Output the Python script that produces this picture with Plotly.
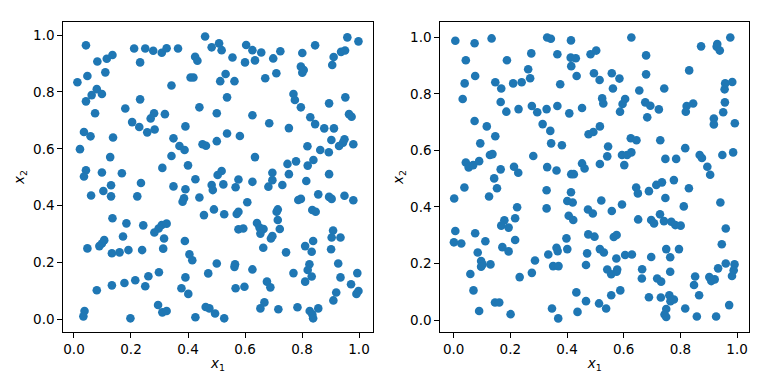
import plotly.graph_objects as go

# Left panel samples (x1, x2)
left_x1 = [0.042,0.211,0.250,0.278,0.308,0.325,0.365,0.460,0.483,0.082,0.115,0.135,0.232,0.425,0.433,0.110,0.047,0.012,0.080,0.062,0.098,0.042,0.342,0.409,0.419,0.232,0.180,0.074,0.281,0.269,0.319,0.440,0.204,0.229,0.257,0.283,0.391,0.035,0.058,0.137,0.349,0.021,0.370,0.388,0.451,0.463,0.127,0.342,0.400,0.310,0.042,0.098,0.168,
 0.509,0.518,0.556,0.604,0.626,0.657,0.600,0.635,0.699,0.724,0.801,0.846,0.959,0.998,0.937,0.951,0.911,0.906,0.796,0.801,0.806,0.532,0.513,0.563,0.671,0.710,0.537,0.770,0.775,0.796,0.895,0.952,0.501,0.626,0.685,0.754,0.829,0.846,0.878,0.912,0.965,0.974,0.537,0.582,0.501,0.903,0.949,0.944,0.930,0.980,0.819,0.864,0.894,0.635,0.749,0.779,0.820,0.840,0.518,0.504,0.696,0.754,0.895,
 0.035,0.235,0.349,0.391,0.426,0.483,0.487,0.060,0.103,0.130,0.130,0.222,0.381,0.386,0.440,0.491,0.456,0.135,0.184,0.243,0.308,0.325,0.297,0.282,0.172,0.316,0.106,0.098,0.089,0.047,0.389,0.191,0.239,0.313,0.133,0.160,0.405,0.415,0.501,0.471,0.298,0.261,0.215,0.250,0.177,0.133,0.080,0.391,0.377,0.401,0.295,0.310,0.325,0.037,0.033,0.198,0.462,0.475,0.495,0.426,
 0.524,0.577,0.567,0.626,0.682,0.696,0.731,0.815,0.608,0.787,0.796,0.857,0.895,0.904,0.949,0.980,0.527,0.571,0.577,0.715,0.711,0.836,0.848,0.715,0.642,0.651,0.665,0.654,0.577,0.594,0.722,0.696,0.691,0.909,0.904,0.935,0.664,0.811,0.839,0.834,0.744,0.902,0.565,0.563,0.626,0.826,0.820,0.927,0.770,0.834,0.811,0.935,0.994,0.972,0.677,0.689,0.567,0.598,0.998,0.991,0.920,0.910,0.668,0.654,0.717,0.784,0.827,0.836,0.839,0.857,0.527]
left_x2 = [0.964,0.953,0.953,0.945,0.938,0.954,0.953,0.995,0.957,0.907,0.917,0.930,0.904,0.924,0.910,0.869,0.856,0.834,0.810,0.789,0.793,0.767,0.823,0.851,0.851,0.774,0.742,0.725,0.725,0.707,0.722,0.746,0.694,0.677,0.658,0.668,0.679,0.659,0.644,0.640,0.637,0.599,0.610,0.596,0.616,0.611,0.571,0.575,0.542,0.533,0.525,0.517,0.514,
 0.971,0.947,0.921,0.965,0.947,0.939,0.904,0.911,0.918,0.943,0.937,0.964,0.992,0.978,0.941,0.946,0.923,0.895,0.889,0.868,0.877,0.863,0.838,0.838,0.848,0.866,0.781,0.793,0.772,0.746,0.760,0.781,0.725,0.718,0.690,0.673,0.711,0.687,0.672,0.672,0.722,0.713,0.654,0.645,0.627,0.631,0.634,0.622,0.610,0.616,0.609,0.596,0.588,0.571,0.547,0.556,0.541,0.561,0.522,0.508,0.516,0.511,0.511,
 0.503,0.480,0.468,0.458,0.493,0.473,0.455,0.436,0.452,0.472,0.433,0.433,0.414,0.426,0.429,0.387,0.367,0.356,0.338,0.331,0.332,0.337,0.320,0.306,0.292,0.285,0.279,0.267,0.258,0.250,0.276,0.244,0.244,0.249,0.233,0.236,0.229,0.208,0.197,0.162,0.166,0.152,0.138,0.117,0.128,0.120,0.103,0.148,0.110,0.090,0.051,0.025,0.030,0.030,0.011,0.004,0.044,0.039,0.021,0.008,
 0.475,0.492,0.465,0.484,0.467,0.490,0.473,0.487,0.412,0.420,0.424,0.440,0.431,0.424,0.435,0.419,0.370,0.371,0.379,0.387,0.379,0.385,0.379,0.350,0.339,0.323,0.318,0.302,0.317,0.320,0.318,0.293,0.285,0.313,0.288,0.288,0.252,0.258,0.276,0.238,0.236,0.247,0.194,0.185,0.176,0.194,0.174,0.197,0.163,0.151,0.133,0.148,0.163,0.124,0.133,0.113,0.110,0.115,0.100,0.090,0.095,0.067,0.060,0.039,0.036,0.043,0.030,0.018,0.004,0.039,0.004]

# Right panel samples (x1, x2)
right_x1 = [0.006,0.074,0.134,0.330,0.343,0.414,0.043,0.188,0.274,0.366,0.413,0.431,0.415,0.263,0.076,0.039,0.147,0.168,0.210,0.240,0.270,0.376,0.434,0.032,0.166,0.186,0.229,0.276,0.295,0.328,0.366,0.408,0.453,0.074,0.117,0.147,0.094,0.314,0.341,0.344,0.382,0.476,0.128,0.137,0.281,0.043,0.053,0.069,0.090,0.166,0.213,0.228,0.330,0.363,0.415,0.424,0.453,0.462,
 0.627,0.873,0.930,0.928,0.939,0.976,0.483,0.503,0.679,0.495,0.515,0.558,0.585,0.679,0.831,0.562,0.655,0.743,0.958,0.983,0.956,0.524,0.528,0.605,0.596,0.587,0.676,0.694,0.724,0.683,0.822,0.845,0.819,0.957,0.951,0.918,0.918,0.992,0.516,0.493,0.625,0.645,0.729,0.545,0.542,0.516,0.594,0.612,0.627,0.602,0.747,0.785,0.817,0.868,0.876,0.895,0.905,0.948,0.986,
 0.143,0.038,0.002,0.125,0.153,0.328,0.414,0.401,0.420,0.224,0.328,0.474,0.179,0.168,0.194,0.217,0.406,0.422,0.006,0.076,0.001,0.027,0.112,0.217,0.172,0.194,0.085,0.398,0.401,0.363,0.367,0.334,0.475,0.471,0.097,0.102,0.097,0.130,0.287,0.351,0.370,0.467,0.059,0.276,0.233,0.070,0.433,0.467,0.146,0.161,0.090,0.201,0.347,0.369,0.437,
 0.644,0.650,0.689,0.715,0.735,0.777,0.830,0.521,0.594,0.558,0.491,0.747,0.812,0.941,0.651,0.697,0.707,0.728,0.742,0.768,0.782,0.801,0.960,0.946,0.497,0.565,0.575,0.516,0.530,0.574,0.605,0.629,0.697,0.750,0.764,0.795,0.542,0.556,0.575,0.577,0.665,0.664,0.718,0.732,0.764,0.852,0.848,0.902,0.909,0.921,0.933,0.960,0.991,0.988,0.982,0.588,0.556,0.513,0.538,0.689,0.731,0.761,0.765,0.777,0.750,0.744,0.750,0.817,0.866,0.858,0.926,0.972]
right_x2 = [0.988,0.979,0.996,0.999,0.995,0.989,0.919,0.919,0.943,0.940,0.928,0.926,0.898,0.887,0.863,0.837,0.841,0.819,0.837,0.841,0.855,0.834,0.863,0.782,0.771,0.737,0.746,0.757,0.735,0.746,0.757,0.731,0.750,0.704,0.685,0.650,0.625,0.693,0.669,0.625,0.618,0.657,0.584,0.587,0.580,0.557,0.540,0.548,0.562,0.533,0.542,0.521,0.541,0.529,0.516,0.516,0.554,0.536,
 0.999,0.968,0.976,0.967,0.953,0.999,0.940,0.953,0.936,0.873,0.849,0.873,0.854,0.869,0.883,0.819,0.812,0.819,0.837,0.842,0.816,0.784,0.766,0.782,0.764,0.737,0.770,0.758,0.745,0.717,0.757,0.766,0.737,0.770,0.735,0.713,0.692,0.696,0.685,0.665,0.643,0.636,0.636,0.614,0.579,0.552,0.584,0.584,0.593,0.548,0.570,0.570,0.608,0.584,0.573,0.542,0.514,0.584,0.593,
 0.501,0.469,0.430,0.437,0.466,0.459,0.452,0.421,0.416,0.399,0.395,0.391,0.353,0.334,0.327,0.360,0.369,0.354,0.315,0.307,0.275,0.271,0.279,0.283,0.258,0.243,0.239,0.289,0.251,0.256,0.244,0.232,0.303,0.236,0.209,0.197,0.189,0.197,0.211,0.191,0.191,0.195,0.163,0.167,0.152,0.105,0.098,0.067,0.062,0.062,0.032,0.021,0.041,0.006,0.029,
 0.469,0.448,0.456,0.478,0.487,0.495,0.466,0.423,0.409,0.386,0.377,0.432,0.402,0.416,0.356,0.354,0.342,0.374,0.350,0.348,0.336,0.334,0.324,0.268,0.295,0.294,0.301,0.251,0.239,0.218,0.230,0.232,0.223,0.251,0.222,0.251,0.179,0.162,0.171,0.179,0.180,0.147,0.147,0.136,0.171,0.154,0.124,0.152,0.138,0.144,0.183,0.200,0.197,0.176,0.156,0.105,0.088,0.059,0.041,0.081,0.080,0.088,0.067,0.073,0.039,0.020,0.011,0.041,0.088,0.013,0.013,0.053]

tick_vals = [0.0, 0.2, 0.4, 0.6, 0.8, 1.0]
tick_text = ["0.0", "0.2", "0.4", "0.6", "0.8", "1.0"]
blue = "#1f77b4"
font = "DejaVu Sans"

fig = go.Figure()
fig.add_trace(go.Scatter(x=left_x1, y=left_x2, mode="markers", xaxis="x", yaxis="y",
                         marker=dict(color=blue, size=8.6, line=dict(width=0)), showlegend=False))
fig.add_trace(go.Scatter(x=right_x1, y=right_x2, mode="markers", xaxis="x2", yaxis="y2",
                         marker=dict(color=blue, size=8.6, line=dict(width=0)), showlegend=False))

def ax(domain, rng, anchor, title, standoff):
    return dict(domain=domain, range=rng, anchor=anchor, showgrid=False, zeroline=False,
                showline=True, mirror=True, linecolor="black", linewidth=1,
                ticks="outside", ticklen=5, tickwidth=1, tickcolor="black",
                tickvals=tick_vals, ticktext=tick_text,
                tickfont=dict(family=font, size=13.5, color="black"),
                title=dict(text=title, font=dict(family=font, size=13.5, color="black"), standoff=standoff))

y_dom = [52.3/384, 361.7/384]
fig.update_layout(
    width=768, height=384, margin=dict(l=0, r=0, t=0, b=0),
    paper_bgcolor="white", plot_bgcolor="white",
    xaxis=ax([63.3/768, 372.7/768], [-0.0375, 1.048], "y", "<i>x</i><sub>1</sub>", 2),
    yaxis=ax(y_dom, [-0.043, 1.045], "x", "<i>x</i><sub>2</sub>", 5),
    xaxis2=ax([440.3/768, 749/768], [-0.047, 1.042], "y2", "<i>x</i><sub>1</sub>", 2),
    yaxis2=ax(y_dom, [-0.041, 1.053], "x2", "<i>x</i><sub>2</sub>", 3),
)
fig.write_html("out.html")
